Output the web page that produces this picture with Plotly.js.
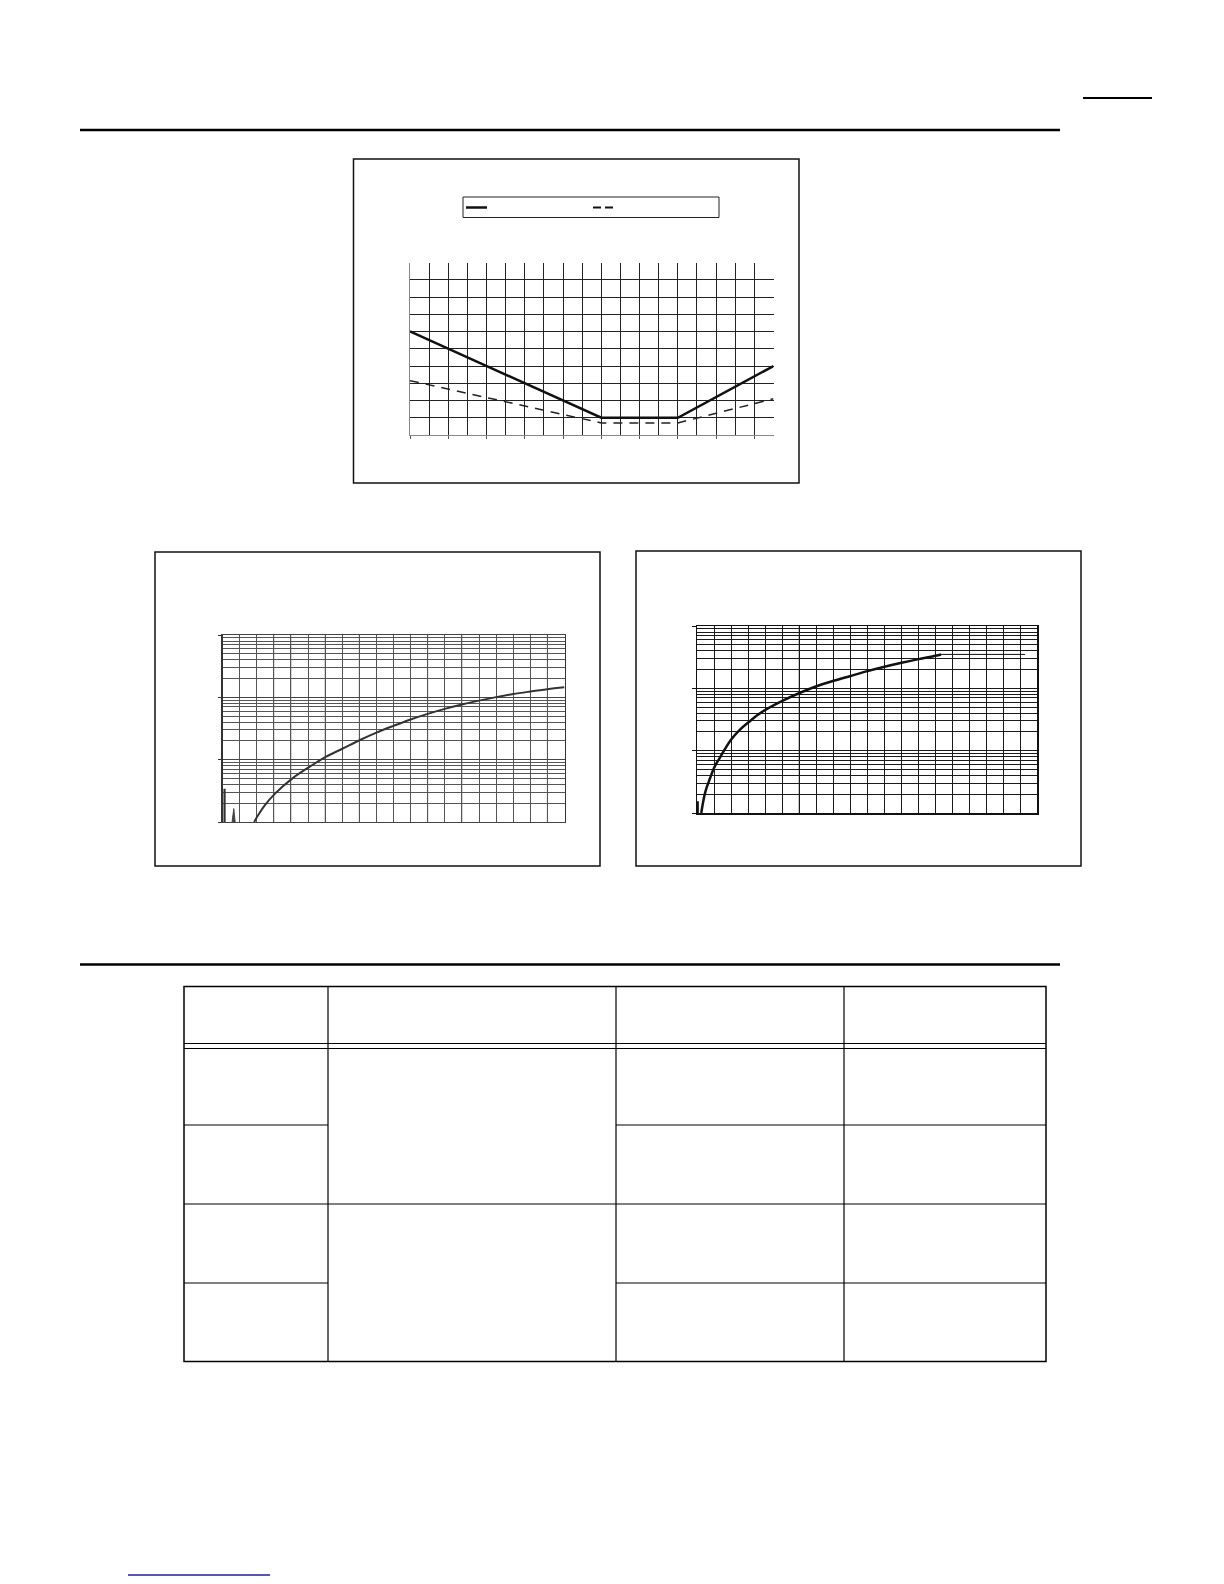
<!DOCTYPE html>
<html>
<head>
<meta charset="utf-8">
<script src="https://cdn.plot.ly/plotly-3.0.1.min.js"></script>
<style>
  html, body { margin: 0; padding: 0; background: #fff; }
  #page { width: 1224px; height: 1584px; }
</style>
</head>
<body>
<div id="page"></div>
<script>
// top chart: two curves over temperature
const tempC = [-40, 60, 100, 150];
const solidVals = [6, 1, 1, 4];
const dashVals = [3.15, 0.7, 0.7, 2.1];

// lower left chart (log y)
const leftX = [1.85, 2.08, 2.47, 3.07, 4.07, 5.08, 6.04, 7.03, 8.01, 9, 10, 11, 12, 13, 14, 15, 16, 17, 18, 19, 20];
const leftY = [1, 1.28, 1.85, 2.85, 4.97, 7.66, 11.1, 15.1, 20.5, 27.2, 34.9, 44.2, 54.3, 65.3, 76.7, 88.5, 100.7, 113, 124, 135, 145];
const leftMarkX = [0.12, 0.12];
const leftMarkY = [1, 3.43];
const leftPeakX = [0.56, 0.66, 0.74];
const leftPeakY = [1, 1.64, 1];

// lower right chart (log y)
const rightX = [0.25, 0.35, 0.45, 0.57, 0.7, 0.85, 1, 1.15, 1.33, 1.65, 2, 2.5, 3.05, 3.5, 4.05, 5.05, 6.03, 7.03, 8.03, 9.03, 10.03, 11.03, 12.03, 13.03, 14.03, 14.36];
const rightY = [1, 1.45, 1.97, 2.57, 3.22, 4.17, 5.27, 6.31, 7.62, 10.7, 15, 21.4, 28.8, 36.3, 45.5, 63.4, 84.1, 108, 132, 158, 189, 222, 257, 294, 333, 350];
const rightFlatX = [14.36, 19.3];
const rightFlatY = [350, 350];
const rightMarkX = [0.05, 0.05];
const rightMarkY = [1, 1.54];

const W = 1224, H = 1584;
const px = v => v / W;
const py = v => 1 - v / H;

function hline(x0, x1, y, color, width) {
    return { type: 'line', xref: 'paper', yref: 'paper', x0: px(x0), x1: px(x1), y0: py(y), y1: py(y),
             line: { color: color, width: width } };
}
function vline(x, y0, y1, color, width) {
    return { type: 'line', xref: 'paper', yref: 'paper', x0: px(x), x1: px(x), y0: py(y0), y1: py(y1),
             line: { color: color, width: width } };
}
function box(x0, y0, x1, y1, color, width) {
    return { type: 'rect', xref: 'paper', yref: 'paper', x0: px(x0), x1: px(x1), y0: py(y1), y1: py(y0),
             line: { color: color, width: width }, fillcolor: 'rgba(0,0,0,0)' };
}
// a lighter grid line inside one of the lower charts
function lightGrid(xref, yref, at, color) {
    return { type: 'line', xref: xref, yref: yref + ' domain', x0: at, x1: at, y0: 0, y1: 1,
             layer: 'below', line: { color: color, width: 1.2 } };
}

const traces = [
    { x: tempC, y: solidVals, xaxis: 'x', yaxis: 'y', mode: 'lines', line: { color: '#111', width: 2.5 } },
    { x: tempC, y: dashVals, xaxis: 'x', yaxis: 'y', mode: 'lines', line: { color: '#222', width: 1.5, dash: '9px,7px' } },

    { x: leftX, y: leftY, xaxis: 'x3', yaxis: 'y3', mode: 'lines', line: { color: '#333', width: 2, shape: 'spline', smoothing: 1 } },
    { x: leftMarkX, y: leftMarkY, xaxis: 'x3', yaxis: 'y3', mode: 'lines', line: { color: '#333', width: 2.2 } },
    { x: leftPeakX, y: leftPeakY, xaxis: 'x3', yaxis: 'y3', mode: 'lines', fill: 'toself', fillcolor: '#444', line: { color: '#444', width: 1 } },

    { x: rightX, y: rightY, xaxis: 'x4', yaxis: 'y4', mode: 'lines', line: { color: '#111', width: 2.5, shape: 'spline', smoothing: 1 } },
    { x: rightFlatX, y: rightFlatY, xaxis: 'x4', yaxis: 'y4', mode: 'lines', line: { color: '#111', width: 1 } },
    { x: rightMarkX, y: rightMarkY, xaxis: 'x4', yaxis: 'y4', mode: 'lines', line: { color: '#111', width: 2 } }
];

const noLabels = { showticklabels: false, zeroline: false, fixedrange: true };

const layout = {
    width: W, height: H,
    margin: { l: 0, r: 0, t: 0, b: 0 },
    paper_bgcolor: '#fff', plot_bgcolor: 'rgba(0,0,0,0)',
    showlegend: false,
    font: { family: 'Liberation Sans, Arial, sans-serif' },

    // top chart
    xaxis: Object.assign({}, noLabels, {
        domain: [px(410), px(773.5)], anchor: 'y', range: [-40, 150],
        tick0: -40, dtick: 20, ticks: 'outside', ticklen: 3, tickcolor: '#555',
        showgrid: true, gridcolor: '#222', gridwidth: 1,
        minor: { tick0: -40, dtick: 10, showgrid: true, gridcolor: '#222', gridwidth: 1 },
        showline: true, linecolor: '#888', linewidth: 1
    }),
    yaxis: Object.assign({}, noLabels, {
        domain: [py(435), py(262.5)], anchor: 'x', range: [0, 10], dtick: 1,
        showgrid: true, gridcolor: '#222', gridwidth: 1,
        showline: true, linecolor: '#888', linewidth: 1, ticks: ''
    }),
    xaxis2: Object.assign({}, noLabels, {
        overlaying: 'x', side: 'top', anchor: 'y', range: [-40, 150],
        tick0: -40, dtick: 18, ticks: 'outside', ticklen: 3, tickcolor: '#333',
        showgrid: false, showline: true, linecolor: '#111', linewidth: 2.5
    }),
    yaxis2: Object.assign({}, noLabels, {
        overlaying: 'y', side: 'right', anchor: 'x', range: [0, 10], dtick: 1,
        ticks: 'outside', ticklen: 3, tickcolor: '#555',
        showgrid: false, showline: true, linecolor: '#666', linewidth: 1
    }),

    // lower left chart
    xaxis3: Object.assign({}, noLabels, {
        domain: [px(222.5), px(564.5)], anchor: 'y3', range: [0, 20], dtick: 1,
        showgrid: true, gridcolor: '#555', gridwidth: 1, ticks: '',
        showline: true, linecolor: '#444', linewidth: 1, mirror: true
    }),
    yaxis3: Object.assign({}, noLabels, {
        domain: [py(822), py(635)], anchor: 'x3', type: 'log', range: [0, 3], dtick: 1,
        ticks: 'outside', ticklen: 3, tickcolor: '#333',
        showgrid: true, gridcolor: '#444', gridwidth: 1,
        minor: { dtick: 'D1', showgrid: true, gridcolor: '#555', gridwidth: 1, ticks: '' },
        showline: true, linecolor: '#333', linewidth: 1.5, mirror: true
    }),

    // lower right chart
    xaxis4: Object.assign({}, noLabels, {
        domain: [px(697), px(1037)], anchor: 'y4', range: [0, 20], dtick: 1,
        showgrid: true, gridcolor: '#1a1a1a', gridwidth: 1, ticks: '',
        showline: true, linecolor: '#111', linewidth: 1.5, mirror: true
    }),
    yaxis4: Object.assign({}, noLabels, {
        domain: [py(813), py(626)], anchor: 'x4', type: 'log', range: [0, 3], dtick: 1,
        ticks: 'outside', ticklen: 4, tickcolor: '#111',
        showgrid: true, gridcolor: '#1a1a1a', gridwidth: 1,
        minor: { dtick: 'D1', showgrid: true, gridcolor: '#1a1a1a', gridwidth: 1, ticks: '' },
        showline: true, linecolor: '#111', linewidth: 1.5, mirror: true
    }),
    xaxis5: Object.assign({}, noLabels, {
        overlaying: 'x4', side: 'top', anchor: 'y4', range: [0, 20],
        tickmode: 'array', tickvals: [3, 10], ticks: 'outside', ticklen: 4, tickcolor: '#111',
        showgrid: false, showline: false
    }),

    shapes: [
        // page rules
        hline(1083, 1152, 98, '#000', 2),
        hline(80, 1060, 130, '#000', 2.5),
        hline(80, 1060, 964.5, '#000', 2.5),
        hline(128, 270, 1575, '#1c1c9c', 1.5),

        // chart frames
        box(353.5, 159, 799, 483, '#111', 1.5),
        box(155, 552, 600, 866, '#111', 1.5),
        box(636, 551, 1081, 866, '#111', 1.5),

        // lighter grid lines seen in the lower charts
        lightGrid('x3', 'y3', 3, '#aaa'),
        lightGrid('x3', 'y3', 4, '#aaa'),
        lightGrid('x3', 'y3', 6, '#aaa'),
        lightGrid('x3', 'y3', 8, '#aaa'),
        lightGrid('x3', 'y3', 12, '#aaa'),
        lightGrid('x3', 'y3', 14, '#aaa'),
        lightGrid('x3', 'y3', 19, '#aaa'),
        lightGrid('x4', 'y4', 6, '#999'),

        // legend box of the top chart
        box(463, 197, 719, 217.5, '#222', 1),
        hline(466, 487, 207.5, '#111', 2.5),
        hline(593, 601, 207.5, '#111', 2),
        hline(605, 613, 207.5, '#111', 2),

        // table
        box(184, 986.5, 1046, 1361.5, '#000', 1.5),
        vline(328, 986.5, 1361.5, '#000', 1.2),
        vline(616, 986.5, 1361.5, '#000', 1.2),
        vline(844, 986.5, 1361.5, '#000', 1.2),
        hline(184, 1046, 1043.5, '#000', 1.2),
        hline(184, 1046, 1048.5, '#000', 1.2),
        hline(184, 328, 1125, '#000', 1.2),
        hline(616, 1046, 1125, '#000', 1.2),
        hline(184, 1046, 1204, '#000', 1.2),
        hline(184, 328, 1283, '#000', 1.2),
        hline(616, 1046, 1283, '#000', 1.2)
    ]
};

Plotly.newPlot('page', traces, layout, { staticPlot: true, displayModeBar: false });
</script>
</body>
</html>
